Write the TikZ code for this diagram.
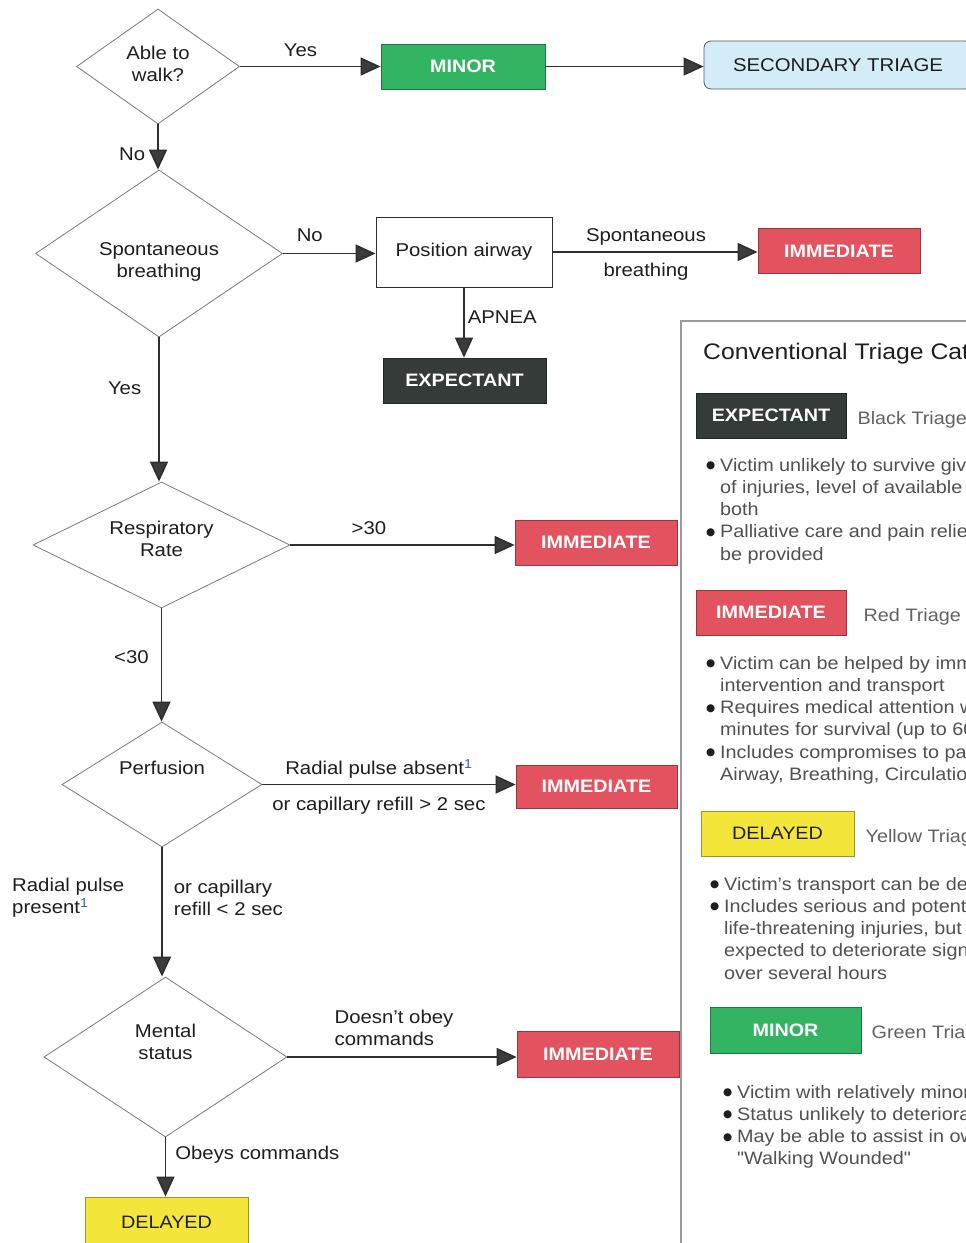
\documentclass[tikz,border=0pt]{standalone}
\usepackage{fontspec}
\setmainfont[FakeStretch=1.1]{Liberation Sans}
\newfontfamily\symfont{DejaVu Sans}
\usepackage{xcolor}
\usepackage{tikz}
\usetikzlibrary{arrows.meta,positioning,shapes.geometric}

\definecolor{minorgreen}{HTML}{33B462}
\definecolor{immred}{HTML}{E2535F}
\definecolor{expdark}{HTML}{353B39}
\definecolor{delyellow}{HTML}{F4E53A}
\definecolor{secblue}{HTML}{D4ECF7}
\definecolor{diagray}{HTML}{7A7A7A}
\definecolor{linedark}{HTML}{2E2E2E}
\definecolor{tipgray}{HTML}{3C3C3C}
\definecolor{txtdark}{HTML}{1E1E1E}
\definecolor{leggray}{HTML}{505050}
\definecolor{framegray}{HTML}{9A9A9A}
\definecolor{linkblue}{HTML}{2F62D0}

\newcommand{\flowfont}{\fontsize{18.5}{22}\selectfont}
\newcommand{\tagfont}{\fontsize{18}{22}\selectfont}
\newcommand{\legfont}{\fontsize{18}{22.2}\selectfont}
\newcommand{\noteone}{\textsuperscript{\textcolor{linkblue}{1}}}
\newcommand{\itembul}{\llap{\raisebox{2.5pt}{\textcolor{txtdark}{\symfont\fontsize{10.5}{12}\selectfont ●}}\hspace{5pt}}}

\tikzset{
  decision/.style n args={3}{diamond, draw=diagray, line width=0.8pt, fill=white,
    aspect=#3, minimum width=#1, minimum height=#2, inner sep=0pt,
    align=center, font=\flowfont, text=txtdark},
  triagebox/.style 2 args={rectangle, draw=#1!65!black, fill=#1, line width=0.8pt,
    minimum width=#2, minimum height=45pt, inner sep=0pt,
    font=\tagfont\bfseries, text=white},
  secbox/.style={rectangle, rounded corners=7pt, draw=black!65, fill=secblue,
    line width=0.8pt, minimum width=268pt, minimum height=48pt,
    font=\flowfont, text=txtdark},
  plainbox/.style={rectangle, draw=linedark, fill=white, line width=0.9pt,
    minimum width=176pt, minimum height=70pt, font=\flowfont, text=txtdark},
  flow/.style={draw=linedark, line width=1.6pt,
    -{Triangle[length=20pt,width=18pt,fill=tipgray]}},
  lbl/.style={font=\flowfont, text=txtdark, inner sep=1pt},
  legtitle/.style={font=\fontsize{22.5}{26}\selectfont, text=txtdark, inner sep=0pt},
  legside/.style={font=\legfont, text=black!62, inner sep=0pt, yshift=-4pt},
  legtxt/.style={anchor=north west, inner sep=0pt, align=left, font=\legfont, text=leggray},
}

\begin{document}
\begin{tikzpicture}[x=1pt,y=-1pt]
\useasboundingbox (0,0) rectangle (966,1243);
\clip (0,0) rectangle (966,1243);

% legend frame
\draw[draw=framegray, line width=1.4pt] (681,321) rectangle (1000,1280);

% decisions
\node[decision={163pt}{115pt}{1.42}, text height=35pt, text depth=5pt] (walk) at (158,66.5) {Able to\\walk?};
\node[decision={247pt}{167pt}{1.48}, text height=47pt, text depth=0pt] (spont) at (159,253.5) {Spontaneous\\breathing};
\node[decision={257pt}{126pt}{2.04}, text height=35pt, text depth=12pt] (resp) at (161.5,545) {Respiratory\\Rate};
\node[decision={200pt}{125pt}{1.6}, text height=8pt, text depth=28pt] (perf) at (162,784.5) {Perfusion};
\node[decision={243pt}{160pt}{1.52}, text height=35pt, text depth=30pt] (ment) at (165.5,1057) {Mental\\status};

% outcome boxes
\node[triagebox={minorgreen}{164pt}] (minor) at (463,66.5) {MINOR};
\node[secbox] (sec) at (838,65) {SECONDARY TRIAGE};
\node[plainbox] (posair) at (464,252) {Position airway};
\node[triagebox={immred}{162pt}] (imm1) at (839,251) {IMMEDIATE};
\node[triagebox={expdark}{163pt}] (expt) at (464.5,380.5) {EXPECTANT};
\node[triagebox={immred}{162pt}] (imm2) at (596,542.5) {IMMEDIATE};
\node[triagebox={immred}{161pt}, minimum height=43pt] (imm3) at (596.5,786.5) {IMMEDIATE};
\node[triagebox={immred}{162pt}, minimum height=46pt] (imm4) at (598,1054.5) {IMMEDIATE};
\node[triagebox={delyellow}{163pt}, minimum height=50pt, font=\tagfont, text=txtdark] (delayed) at (166.5,1222) {DELAYED};

% connectors
\draw[flow] (walk.east) -- (walk.east -| minor.west) node[lbl, pos=0.43, above=8pt] (yes1) {Yes};
\draw[flow] (minor.east) -- (minor.east -| sec.west);
\draw[flow] (walk.south) -- (walk.south |- spont.north) node[lbl, pos=0.67, left=11pt] (no1) {No};
\draw[flow] (spont.east) -- (spont.east -| posair.west) node[lbl, pos=0.29, above=10pt] (no2) {No};
\draw[flow] (posair.east) -- (posair.east -| imm1.west)
  node[lbl, pos=0.456, above=5pt] (spon1) {Spontaneous}
  node[lbl, pos=0.456, below=9pt] (spon2) {breathing};
\draw[flow] (posair.south) -- (posair.south |- expt.north) node[lbl, pos=0.43, right=2pt] (apnea) {APNEA};
\draw[flow] (spont.south) -- (spont.south |- resp.north) node[lbl, pos=0.35, left=16pt] (yes2) {Yes};
\draw[flow] (resp.east) -- (resp.east -| imm2.west) node[lbl, pos=0.35, above=9pt] (gt30) {>30};
\draw[flow] (resp.south) -- (resp.south |- perf.north) node[lbl, pos=0.43, left=11pt] (lt30) {<30};
\draw[flow] (perf.east) -- (perf.east -| imm3.west)
  node[lbl, pos=0.46, above=4pt] (absent) {Radial pulse absent\noteone}
  node[lbl, pos=0.46, below=11pt] (capgt) {or capillary refill > 2 sec};
\draw[flow] (perf.south) -- (perf.south |- ment.north)
  node[lbl, pos=0.39, left=36pt, align=left] (present) {Radial pulse\\present\noteone}
  node[lbl, pos=0.39, right=10pt, align=left] (capleq) {or capillary\\refill < 2 sec};
\draw[flow] (ment.east) -- (ment.east -| imm4.west) node[lbl, pos=0.465, above=10pt, align=left] (noobey) {Doesn't obey\\commands};
\draw[flow] (ment.south) -- (ment.south |- delayed.north) node[lbl, pos=0.3, right=8pt] (obeys) {Obeys commands};

% legend
\node[legtitle, anchor=west] (legtitle) at (703,354) {Conventional Triage Categories};

\node[triagebox={expdark}{150pt}] (lexp) at (771,415.5) {EXPECTANT};
\node[legside, right=11pt of lexp] (lexptxt) {Black Triage};
\node[legtxt] (lexpitems) at (720,458) {\itembul Victim unlikely to survive given\\
 of injuries, level of available\\
 both\\
 \itembul Palliative care and pain relief\\
 be provided};

\node[triagebox={immred}{150pt}] (limm) at (771,612.5) {IMMEDIATE};
\node[legside, right=17pt of limm] (limmtxt) {Red Triage Tag};
\node[legtxt] (limmitems) at (720,656) {\itembul Victim can be helped by immediate\\
 intervention and transport\\
 \itembul Requires medical attention within\\
 minutes for survival (up to 60\\
 \itembul Includes compromises to patient's\\
 Airway, Breathing, Circulation};

\node[triagebox={delyellow}{153pt}, font=\tagfont, text=txtdark] (ldel) at (777.5,833.5) {DELAYED};
\node[legside, right=11pt of ldel] (ldeltxt) {Yellow Triage};
\node[legtxt] (ldelitems) at (724,877) {\itembul Victim's transport can be delayed\\
 \itembul Includes serious and potentially\\
 life-threatening injuries, but status\\
 expected to deteriorate significantly\\
 over several hours};

\node[triagebox={minorgreen}{151pt}, minimum height=46pt] (lmin) at (785.5,1030) {MINOR};
\node[legside, right=10pt of lmin] (lmintxt) {Green Triage};
\node[legtxt] (lminitems) at (737,1085) {\itembul Victim with relatively minor\\
 \itembul Status unlikely to deteriorate\\
 \itembul May be able to assist in own\\
 {\addfontfeature{Ligatures=TeXOff}"Walking Wounded"}};
\end{tikzpicture}
\end{document}
